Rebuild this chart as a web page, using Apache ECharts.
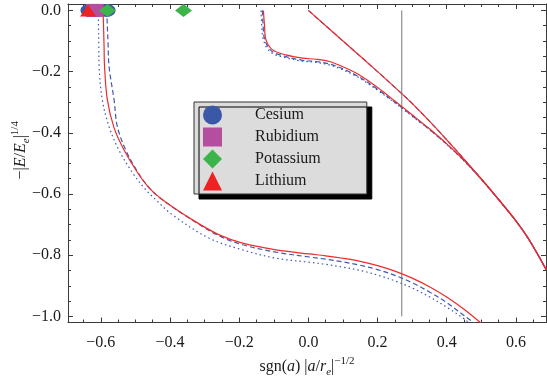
<!DOCTYPE html>
<html>
<head>
<meta charset="utf-8">
<script src="https://cdn.jsdelivr.net/npm/echarts@6/dist/echarts.min.js"></script>
<style>
html,body{margin:0;padding:0;background:#fff;}
#chart{width:547px;height:384px;}
</style>
</head>
<body>
<div id="chart"></div>
<script>
// ---- tick positions ----
const xMajor = [-0.6, -0.4, -0.2, 0.0, 0.2, 0.4, 0.6];
const xMinor = [-0.65, -0.55, -0.5, -0.45, -0.35, -0.3, -0.25, -0.15, -0.1, -0.05,
                0.05, 0.1, 0.15, 0.25, 0.3, 0.35, 0.45, 0.5, 0.55, 0.65];
const yMajor = [0.0, -0.2, -0.4, -0.6, -0.8, -1.0];
const yMinor = [-0.05, -0.1, -0.15, -0.25, -0.3, -0.35, -0.45, -0.5, -0.55,
                -0.65, -0.7, -0.75, -0.85, -0.9, -0.95];

// ---- outer branch (left, large) ----
const outerRed = [[-0.594,0],[-0.5928,-0.031],[-0.5908,-0.113],[-0.5893,-0.184],[-0.5812,-0.2925],
  [-0.5618,-0.384],[-0.533,-0.456],[-0.495,-0.528],[-0.4605,-0.58],[-0.422,-0.619],[-0.335,-0.6846],
  [-0.2577,-0.7337],[-0.19,-0.7608],[-0.0935,-0.7827],[0.003,-0.796],[0.05,-0.802],[0.1,-0.81],
  [0.15,-0.82],[0.2,-0.834],[0.25,-0.852],[0.3,-0.875],[0.35,-0.903],[0.4,-0.937],[0.45,-0.977],[0.5,-1.023]];
const outerDashed = [[-0.583,0],[-0.582,-0.031],[-0.579,-0.113],[-0.5763,-0.184],[-0.5618,-0.2925],
  [-0.5523,-0.38],[-0.528,-0.456],[-0.4935,-0.528],[-0.46,-0.58],[-0.422,-0.619],[-0.335,-0.686],
  [-0.2577,-0.737],[-0.19,-0.766],[-0.0935,-0.79],[0.003,-0.806],[0.05,-0.813],[0.1,-0.822],
  [0.15,-0.833],[0.2,-0.847],[0.25,-0.866],[0.3,-0.89],[0.35,-0.92],[0.4,-0.955],[0.45,-0.997],[0.49,-1.03]];
const outerDotted = [[-0.607,0],[-0.607,-0.031],[-0.606,-0.113],[-0.605,-0.184],[-0.5957,-0.2925],
  [-0.5763,-0.38],[-0.548,-0.456],[-0.51,-0.528],[-0.475,-0.58],[-0.441,-0.619],[-0.393,-0.668],
  [-0.2867,-0.7445],[-0.19,-0.7827],[-0.0935,-0.81],[0.003,-0.823],[0.05,-0.83],[0.1,-0.839],
  [0.15,-0.85],[0.2,-0.865],[0.25,-0.884],[0.3,-0.907],[0.35,-0.936],[0.4,-0.97],[0.45,-1.008],[0.48,-1.035]];

// ---- middle branch ----
const middleRed = [[-0.130,0],[-0.127,-0.047],[-0.1225,-0.0964],[-0.1034,-0.129],[-0.0646,-0.1454],
  [-0.0165,-0.156],[0.0223,-0.1595],[0.0608,-0.167],[0.0993,-0.184],[0.1477,-0.211],[0.2,-0.252],
  [0.25,-0.296],[0.3,-0.341],[0.35,-0.387],[0.4,-0.436],[0.45,-0.49],[0.5,-0.551],
  [0.55,-0.618],[0.6,-0.688],[0.64,-0.753],[0.688,-0.848]];
const middleDashed = [[-0.133,0],[-0.131,-0.047],[-0.126,-0.0964],[-0.106,-0.133],[-0.0646,-0.151],
  [-0.0165,-0.163],[0.0223,-0.167],[0.0608,-0.175],[0.0993,-0.191],[0.1477,-0.218],[0.2,-0.258],
  [0.25,-0.300],[0.3,-0.344],[0.35,-0.389],[0.4,-0.437],[0.45,-0.491],[0.5,-0.552],
  [0.55,-0.618],[0.6,-0.688],[0.64,-0.753],[0.688,-0.848]];
const middleDotted = [[-0.137,0],[-0.135,-0.047],[-0.130,-0.0964],[-0.110,-0.136],[-0.0646,-0.155],
  [-0.0165,-0.166],[0.0223,-0.170],[0.0608,-0.178],[0.0993,-0.194],[0.1477,-0.221],[0.2,-0.261],
  [0.25,-0.302],[0.3,-0.346],[0.35,-0.390],[0.4,-0.438],[0.45,-0.492],[0.5,-0.552],
  [0.55,-0.618],[0.6,-0.688],[0.64,-0.753],[0.688,-0.848]];

// ---- inner branch (from the origin) ----
const innerRed = [[0,0],[0.1,-0.1],[0.2,-0.2],[0.27,-0.272],[0.3,-0.304],[0.35,-0.362],
  [0.4,-0.423],[0.45,-0.486],[0.5,-0.551],[0.55,-0.618],[0.6,-0.688],[0.64,-0.753],[0.688,-0.848]];
const innerDashed = innerRed;

// ---- marker positions (all at zero energy) ----
const cesiumX = [-0.633, -0.5835];
const rubidiumX = [-0.622, -0.612];
const potassiumX = [-0.581, -0.361];
const lithiumX = [-0.637];

const markerY = 0.0;
const vLineX = 0.27;
const vLineY = [0.0, -1.0];

const serif = '"Liberation Serif","DejaVu Serif",serif';
const txt = '#1a1a1a';
const frame = '#3a3a3a';

function fmt(v) {
  const s = Math.abs(v).toFixed(1);
  return v < -1e-9 ? '\u2212' + s : s;
}

const X_MIN = -0.695, X_MAX = 0.687, Y_MIN = -1.02, Y_MAX = 0.021;

function xAx(pos, ticks, len, labels, line, extra) {
  return Object.assign({
    type: 'value', position: pos, min: X_MIN, max: X_MAX, gridIndex: 0,
    axisLine: { show: line, onZero: false, lineStyle: { color: frame, width: 1 } },
    axisTick: { show: true, inside: true, length: len, customValues: ticks, lineStyle: { color: frame, width: 1 } },
    axisLabel: labels ? { show: true, customValues: ticks, formatter: fmt, fontFamily: serif, fontSize: 16, color: txt, margin: 12 } : { show: false },
    splitLine: { show: false }
  }, extra || {});
}
function yAx(pos, ticks, len, labels, line, extra) {
  return Object.assign({
    type: 'value', position: pos, min: Y_MIN, max: Y_MAX, gridIndex: 0,
    axisLine: { show: line, onZero: false, lineStyle: { color: frame, width: 1 } },
    axisTick: { show: true, inside: true, length: len, customValues: ticks, lineStyle: { color: frame, width: 1 } },
    axisLabel: labels ? { show: true, customValues: ticks, formatter: fmt, fontFamily: serif, fontSize: 16, color: txt, margin: 7 } : { show: false },
    splitLine: { show: false }
  }, extra || {});
}

const richName = {
  n: { fontFamily: serif, fontSize: 16, color: txt },
  i: { fontFamily: serif, fontSize: 16, fontStyle: 'italic', color: txt },
  sub: { fontFamily: serif, fontSize: 11, fontStyle: 'italic', color: txt, verticalAlign: 'bottom', lineHeight: 22 },
  sup: { fontFamily: serif, fontSize: 11, color: txt, verticalAlign: 'top', lineHeight: 22 }
};

const curveStyle = {
  red: { color: '#ee2a2a', width: 1.2, type: 'solid' },
  dashed: { color: '#3c5ab4', width: 1.2, type: [5, 3] },
  dotted: { color: '#3c5ab4', width: 1.2, type: [1.5, 3] }
};

function curve(data, style) {
  return {
    type: 'line', data: data, showSymbol: false, symbol: 'none', smooth: 0.35,
    lineStyle: style, silent: true, z: 3, xAxisIndex: 0, yAxisIndex: 0, clip: true
  };
}
function markers(name, xs, symbol, size, color, z) {
  return {
    name: name, type: 'scatter', symbol: symbol, symbolSize: size, clip: false,
    data: xs.map(x => [x, markerY]),
    itemStyle: { color: color, opacity: 1 }, z: z, xAxisIndex: 0, yAxisIndex: 0
  };
}

const chart = echarts.init(document.getElementById('chart'), null, { renderer: 'canvas' });
chart.setOption({
  animation: false,
  backgroundColor: '#ffffff',
  grid: { left: 68, right: 1, top: 4, bottom: 61.5, containLabel: false },
  xAxis: [
    xAx('bottom', xMajor, 5, true, true, {
      name: '{n|sgn(}{i|a}{n|) |}{i|a}{n|/}{i|r}{sub|e}{n||}{sup|\u22121/2}',
      nameLocation: 'middle', nameGap: 33, nameMoveOverlap: false, nameTextStyle: { rich: richName }
    }),
    xAx('bottom', xMinor, 3, false, false),
    xAx('top', xMajor, 5, false, true),
    xAx('top', xMinor, 3, false, false)
  ],
  yAxis: [
    yAx('left', yMajor, 5, true, true, {
      name: '{n|\u2212|}{i|E}{n|/}{i|E}{sub|e}{n||}{sup|1/4}',
      nameLocation: 'middle', nameGap: 36, nameRotate: 90, nameMoveOverlap: false,
      nameTextStyle: { rich: richName, padding: [0, 0, 0, 26] }
    }),
    yAx('left', yMinor, 3, false, false),
    yAx('right', yMajor, 5, false, true),
    yAx('right', yMinor, 3, false, false)
  ],
  legend: {
    data: [
      { name: 'Cesium', icon: 'circle' },
      { name: 'Rubidium', icon: 'rect' },
      { name: 'Potassium', icon: 'diamond' },
      { name: 'Lithium', icon: 'triangle' }
    ],
    orient: 'vertical', left: 194, top: 102,
    itemWidth: 19, itemHeight: 19, itemGap: 3,
    padding: [3.5, 46, 3.5, 9],
    backgroundColor: '#dcdcdc', borderColor: '#333', borderWidth: 1,
    shadowColor: '#000', shadowBlur: 0, shadowOffsetX: 5, shadowOffsetY: 5,
    textStyle: { fontFamily: serif, fontSize: 16, color: txt, padding: [0, 0, 0, 28] },
    selectedMode: false
  },
  series: [
    curve(outerDotted, curveStyle.dotted),
    curve(outerDashed, curveStyle.dashed),
    curve(outerRed, curveStyle.red),
    curve(middleDotted, curveStyle.dotted),
    curve(middleDashed, curveStyle.dashed),
    curve(middleRed, curveStyle.red),
    curve(innerDashed, curveStyle.dashed),
    curve(innerRed, curveStyle.red),
    {
      type: 'line', data: vLineY.map(y => [vLineX, y]), showSymbol: false, symbol: 'none',
      lineStyle: { color: '#777', width: 1 }, silent: true, z: 2
    },
    markers('Cesium', cesiumX, 'circle', [18, 13], '#3b57a8', 10),
    markers('Rubidium', rubidiumX, 'rect', [14, 13], '#b44fa0', 11),
    markers('Potassium', potassiumX, 'diamond', [17, 13], '#3cb44a', 12),
    markers('Lithium', lithiumX, 'triangle', [16, 12], '#ee2222', 13)
  ]
});
</script>
</body>
</html>
